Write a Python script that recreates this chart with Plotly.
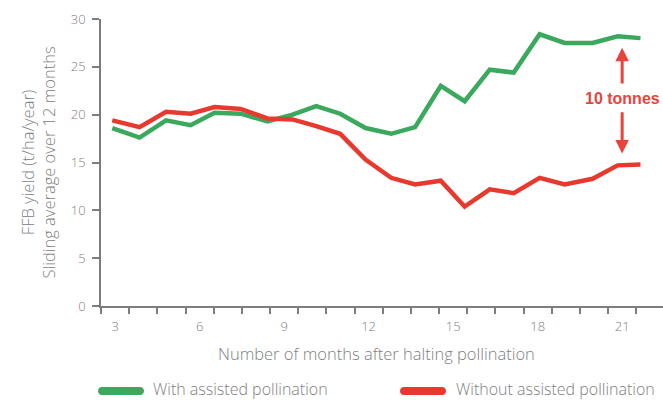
import plotly.graph_objects as go

# ---- data ----
months = [2.90, 3.87, 4.81, 5.68, 6.53, 7.46, 8.41, 9.30, 10.14, 10.99, 11.89,
          12.80, 13.65, 14.56, 15.41, 16.30, 17.15, 18.07, 18.96, 19.95, 20.84, 21.65]
with_pollination = [18.6, 17.6, 19.4, 18.9, 20.2, 20.1, 19.3, 20.0, 20.9, 20.1, 18.6,
                    18.0, 18.7, 23.0, 21.4, 24.7, 24.4, 28.4, 27.5, 27.5, 28.2, 28.0]
without_pollination = [19.4, 18.7, 20.3, 20.1, 20.8, 20.6, 19.6, 19.5, 18.8, 18.0, 15.3,
                       13.4, 12.7, 13.1, 10.4, 12.2, 11.8, 13.4, 12.7, 13.3, 14.7, 14.8]
x_tick_values = [3, 6, 9, 12, 15, 18, 21]
y_tick_values = [0, 5, 10, 15, 20, 25, 30]
series_names = ["With assisted pollination", "Without assisted pollination"]
gap_label = "10 tonnes"
gap_month = 21
gap_top_tip, gap_top_tail = 27.0, 23.1
gap_bottom_tail, gap_bottom_tip = 20.4, 15.95
gap_label_y = 21.7

GREEN = "#3aa85d"
RED = "#e8392f"
ARROW_RED = "#e8443c"
GREY_TEXT = "#808080"
GREY_LINE = "#7d7d7d"
FONT = "Open Sans, Liberation Sans, Arial, sans-serif"
BOLD_FONT = "Liberation Sans, Arial, sans-serif"
LIGHT = 300
TITLE_SIZE = 16.5
LEGEND_SIZE = 16

W, H = 663, 400
ML, MR, MT, MB = 101, 0, 19, 94
PW, PH = W - ML - MR, H - MT - MB

def px_x(p):
    return (p - ML) / PW

def px_y(p):
    return (H - MB - p) / PH

fig = go.Figure()
fig.add_trace(go.Scatter(x=months, y=with_pollination, mode="lines", name=series_names[0],
                         line=dict(color=GREEN, width=4.5), showlegend=False, hoverinfo="skip"))
fig.add_trace(go.Scatter(x=months, y=without_pollination, mode="lines", name=series_names[1],
                         line=dict(color=RED, width=4.5), showlegend=False, hoverinfo="skip"))

# arrows for the gap
arrow_common = dict(xref="x", yref="y", axref="x", ayref="y", text="", showarrow=True,
                    arrowhead=2, arrowsize=0.9, arrowwidth=3, arrowcolor=ARROW_RED,
                    standoff=0, startstandoff=0)
fig.add_annotation(x=gap_month, y=gap_top_tip, ax=gap_month, ay=gap_top_tail, **arrow_common)
fig.add_annotation(x=gap_month, y=gap_bottom_tip, ax=gap_month, ay=gap_bottom_tail, **arrow_common)
fig.add_annotation(x=gap_month, y=gap_label_y, text="<b>" + gap_label + "</b>", showarrow=False,
                   xanchor="center", yanchor="middle",
                   font=dict(family=BOLD_FONT, size=16, color=ARROW_RED))

# y-axis title (two lines)
fig.add_annotation(xref="paper", yref="paper", x=px_x(37), y=0.5, xanchor="center", yanchor="middle",
                   text="FFB yield (t/ha/year)<br>Sliding average over 12 months",
                   textangle=-90, showarrow=False,
                   font=dict(family=FONT, size=TITLE_SIZE, color=GREY_TEXT, weight=LIGHT))
# x-axis title
fig.add_annotation(xref="paper", yref="paper", x=px_x(376), y=px_y(353), xanchor="center", yanchor="middle",
                   text="Number of months after halting pollination", showarrow=False,
                   font=dict(family=FONT, size=TITLE_SIZE, color=GREY_TEXT, weight=LIGHT))

# manual legend
def swatch(x_left_px, y_px, color):
    r, L = 4, 46
    path = (f"M{r},{r} L{L - r},{r} C{L - r + 1.333 * r},{r} {L - r + 1.333 * r},{-r} {L - r},{-r} "
            f"L{r},{-r} C{r - 1.333 * r},{-r} {r - 1.333 * r},{r} {r},{r} Z")
    fig.add_shape(type="path", xref="paper", yref="paper", xsizemode="pixel", ysizemode="pixel",
                  xanchor=px_x(x_left_px), yanchor=px_y(y_px), path=path,
                  fillcolor=color, line=dict(width=0))

swatch(98, 391, GREEN)
swatch(400, 391, RED)
fig.add_annotation(xref="paper", yref="paper", x=px_x(151), y=px_y(389), xanchor="left", yanchor="middle",
                   text=series_names[0], showarrow=False,
                   font=dict(family=FONT, size=LEGEND_SIZE, color=GREY_TEXT, weight=LIGHT))
fig.add_annotation(xref="paper", yref="paper", x=px_x(454), y=px_y(389), xanchor="left", yanchor="middle",
                   text=series_names[1], showarrow=False,
                   font=dict(family=FONT, size=LEGEND_SIZE, color=GREY_TEXT, weight=LIGHT))

fig.update_layout(
    width=W, height=H,
    margin=dict(l=ML, r=MR, t=MT, b=MB, pad=0),
    paper_bgcolor="white", plot_bgcolor="white",
    font=dict(family=FONT, color=GREY_TEXT),
    showlegend=False,
    hovermode=False,
)
fig.update_xaxes(range=[2.5, 22.45], showgrid=False, zeroline=False,
                 showline=True, linecolor=GREY_LINE, linewidth=1.5,
                 tickmode="array", tickvals=x_tick_values,
                 ticktext=[str(v) for v in x_tick_values],
                 ticks="", ticklabelstandoff=8,
                 tickfont=dict(family=FONT, size=13, color=GREY_TEXT, weight=LIGHT),
                 minor=dict(ticks="outside", tick0=2.5, dtick=1, ticklen=6,
                            tickcolor=GREY_LINE, tickwidth=1.5, showgrid=False))
fig.update_yaxes(range=[0, 30], showgrid=False, zeroline=False,
                 showline=True, linecolor=GREY_LINE, linewidth=1.5,
                 tickmode="array", tickvals=y_tick_values,
                 ticks="outside", ticklen=7, tickcolor=GREY_LINE, tickwidth=1.5,
                 ticklabelstandoff=4,
                 tickfont=dict(family=FONT, size=13, color=GREY_TEXT, weight=LIGHT))

# remove the page's default 8px body margin so the 663x400 figure fills the window
fig.write_html("out.html",
               config={"displayModeBar": False},
               post_script="document.body.style.margin='0';"
                           "document.documentElement.style.overflow='hidden';")
